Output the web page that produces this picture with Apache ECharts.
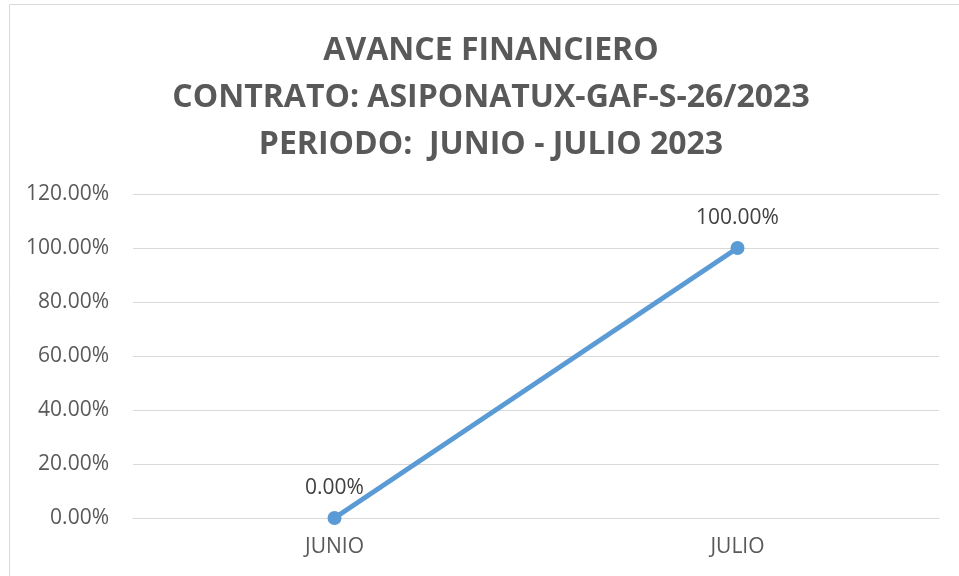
<!DOCTYPE html>
<html>
<head>
<meta charset="utf-8">
<script src="https://cdn.jsdelivr.net/npm/echarts@6/dist/echarts.min.js"></script>
<style>
html,body{margin:0;padding:0;background:#fff;}
#chart{width:959px;height:576px;}
</style>
</head>
<body>
<div id="chart"></div>
<script>
const titleLines = ['AVANCE FINANCIERO', 'CONTRATO: ASIPONATUX-GAF-S-26/2023', 'PERIODO:  JUNIO - JULIO 2023'];
const categories = ['JUNIO', 'JULIO'];
const values = [0, 100];
const yMin = 0, yMax = 120, yStep = 20;

const chart = echarts.init(document.getElementById('chart'));
chart.setOption({
  backgroundColor: '#fff',
  animation: false,
  title: {
    text: titleLines.join('\n'),
    left: 486,
    textAlign: 'center',
    top: 22,
    textStyle: {
      fontFamily: 'Open Sans',
      fontWeight: 'bold',
      fontSize: 32,
      lineHeight: 47,
      color: '#595959'
    }
  },
  graphic: [{
    type: 'rect',
    shape: {x: 9.5, y: 4.5, width: 1000, height: 1000},
    style: {fill: 'none', stroke: '#d9d9d9', lineWidth: 1},
    silent: true
  }],
  grid: {left: 133, right: 20, top: 194, bottom: 58},
  xAxis: {
    type: 'category',
    data: categories,
    boundaryGap: true,
    axisLine: {show: true, lineStyle: {color: '#d9d9d9', width: 1}},
    axisTick: {show: false},
    axisLabel: {color: '#595959', fontFamily: 'Open Sans', fontSize: 21, margin: 19}
  },
  yAxis: {
    type: 'value',
    min: yMin, max: yMax, interval: yStep,
    axisLine: {show: false},
    axisTick: {show: false},
    splitLine: {lineStyle: {color: '#d9d9d9', width: 1}},
    axisLabel: {
      color: '#595959', fontFamily: 'Open Sans', fontSize: 21, margin: 24,
      formatter: v => v.toFixed(2) + '%'
    }
  },
  series: [{
    type: 'line',
    data: values,
    symbol: 'circle',
    symbolSize: 14,
    lineStyle: {color: '#5b9bd5', width: 5},
    itemStyle: {color: '#5b9bd5'},
    label: {
      show: true, position: 'top', distance: 12,
      color: '#404040', fontFamily: 'Open Sans', fontSize: 21,
      formatter: p => p.value.toFixed(2) + '%'
    }
  }]
});
</script>
</body>
</html>
